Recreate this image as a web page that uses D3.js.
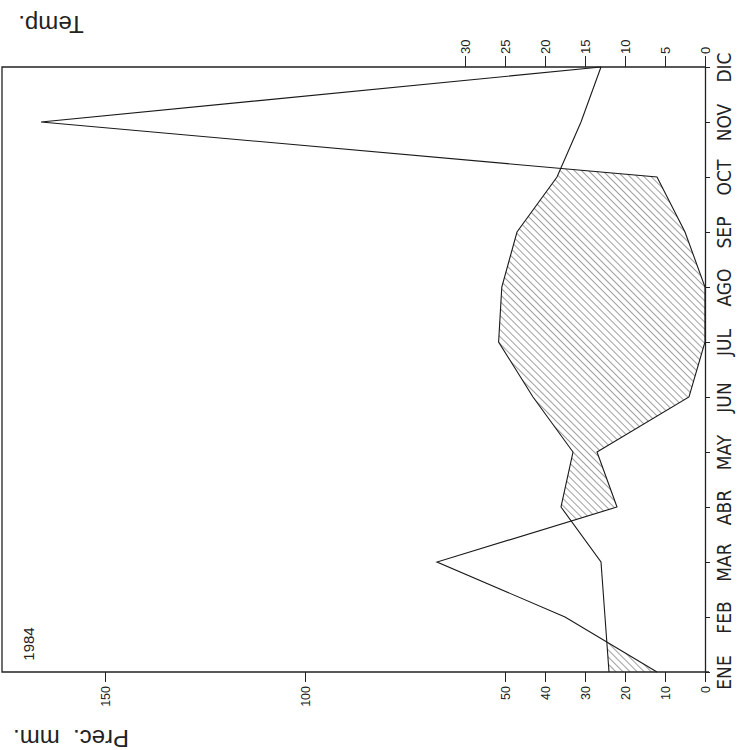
<!DOCTYPE html>
<html>
<head>
<meta charset="utf-8">
<script src="https://cdn.jsdelivr.net/npm/d3@7"></script>
<style>
	body { margin: 0; background: #fff; }
	text { font-family: 'Liberation Sans', Arial, sans-serif; fill: #222; }
	.narrow { font-family: 'Liberation Sans Narrow', 'DejaVu Sans Condensed', 'Liberation Sans', sans-serif; }
</style>
</head>
<body>
<div class="chart"></div>
<script>
// climate diagram, 1984 (drawn turned on its side like the scan)
let months = ['ENE', 'FEB', 'MAR', 'ABR', 'MAY', 'JUN', 'JUL', 'AGO', 'SEP', 'OCT', 'NOV', 'DIC'];
let prec = [12, 35, 67, 22, 27, 4, 0, 0, 5, 12, 166, 26];
let temp = [12, 12.5, 13, 18, 16.5, 21.5, 25.8, 25.4, 23.5, 18.5, 15.5, 13];
let precTicks = [0, 10, 20, 30, 40, 50, 100, 150];
let tempTicks = [0, 5, 10, 15, 20, 25, 30];
let year = '1984';

let width = 737, height = 750;
let axisX = 705, left = 2;

let y = d3.scalePoint().domain(months).range([672, 67]);
let xP = d3.scaleLinear().domain([0, 150]).range([axisX, axisX - 600]);
let xT = d3.scaleLinear().domain([0, 30]).range([axisX, axisX - 240]);

let data = months.map((m, i) => ({ m: m, p: prec[i], t: temp[i] }));

let svg = d3.select('.chart').append('svg')
	.attr('width', width)
	.attr('height', height);

let defs = svg.append('defs');
defs.append('pattern')
	.attr('id', 'hatch')
	.attr('patternUnits', 'userSpaceOnUse')
	.attr('width', 5).attr('height', 5)
	.attr('patternTransform', 'rotate(-45)')
	.append('line')
	.attr('x1', 0).attr('y1', 0).attr('x2', 0).attr('y2', 5)
	.attr('stroke', '#2a2a2a').attr('stroke-width', 0.9);

// dry part: right of the temp line and left of the rain line
defs.append('clipPath').attr('id', 'leftOfPrec')
	.append('path')
	.attr('d', d3.area().y(d => y(d.m)).x0(left).x1(d => xP(d.p))(data));

svg.append('path')
	.attr('d', d3.area().y(d => y(d.m)).x0(d => xT(d.t)).x1(axisX)(data))
	.attr('fill', 'url(#hatch)')
	.attr('clip-path', 'url(#leftOfPrec)');

// frame
let yTop = y('DIC'), yBot = y('ENE');
svg.append('path')
	.attr('d', `M${axisX},${yTop}H${left}V${yBot}H${axisX + 4}`)
	.attr('fill', 'none').attr('stroke', '#222').attr('stroke-width', 1.3);

// month axis
let mAxis = svg.append('g')
	.attr('transform', `translate(${axisX},0)`)
	.call(d3.axisRight(y).tickSize(5).tickSizeOuter(0));
mAxis.select('.domain').attr('stroke', '#222').attr('stroke-width', 1.3);
mAxis.selectAll('line').attr('stroke', '#222');
mAxis.selectAll('text')
	.attr('class', 'narrow')
	.attr('transform', 'rotate(-90)')
	.attr('x', 0).attr('y', 19).attr('dy', null)
	.attr('dominant-baseline', 'central')
	.style('text-anchor', 'middle')
	.style('font-size', '19px');

// temperature axis on top
let tAxis = svg.append('g')
	.attr('transform', `translate(0,${yTop})`)
	.call(d3.axisTop(xT).tickValues(tempTicks).tickSize(11).tickFormat(d3.format('d')));
tAxis.select('.domain').remove();
tAxis.selectAll('line').attr('stroke', '#222');
tAxis.selectAll('text')
	.attr('transform', 'rotate(-90)')
	.attr('x', 13).attr('y', 0).attr('dy', null)
	.attr('dominant-baseline', 'central')
	.style('text-anchor', 'start')
	.style('font-size', '13px');

// precipitation axis below
let pAxis = svg.append('g')
	.attr('transform', `translate(0,${yBot})`)
	.call(d3.axisBottom(xP).tickValues(precTicks).tickSize(10).tickFormat(d3.format('d')));
pAxis.select('.domain').remove();
pAxis.selectAll('line').attr('stroke', '#222');
pAxis.selectAll('text')
	.attr('transform', 'rotate(-90)')
	.attr('x', -14).attr('y', 0).attr('dy', null)
	.attr('dominant-baseline', 'central')
	.style('text-anchor', 'end')
	.style('font-size', '12.5px');

// the two curves
svg.append('path')
	.datum(data)
	.attr('d', d3.line().x(d => xP(d.p)).y(d => y(d.m)))
	.attr('fill', 'none').attr('stroke', '#1a1a1a').attr('stroke-width', 1.1);

svg.append('path')
	.datum(data)
	.attr('d', d3.line().x(d => xT(d.t)).y(d => y(d.m)))
	.attr('fill', 'none').attr('stroke', '#1a1a1a').attr('stroke-width', 1.1);

// titles, upside down as in the scan
svg.append('text').text('Temp.')
	.attr('transform', 'translate(51,24) rotate(180)')
	.attr('dominant-baseline', 'central')
	.style('text-anchor', 'middle').style('font-size', '24px');

svg.append('text').text('Prec.  mm.')
	.attr('transform', 'translate(71,738) rotate(180)')
	.attr('dominant-baseline', 'central')
	.style('white-space', 'pre')
	.style('text-anchor', 'middle').style('font-size', '24px');

svg.append('text').text(year)
	.attr('transform', `translate(28,${yBot - 28}) rotate(-90)`)
	.attr('dominant-baseline', 'central')
	.style('text-anchor', 'middle').style('font-size', '15px');
</script>
</body>
</html>
